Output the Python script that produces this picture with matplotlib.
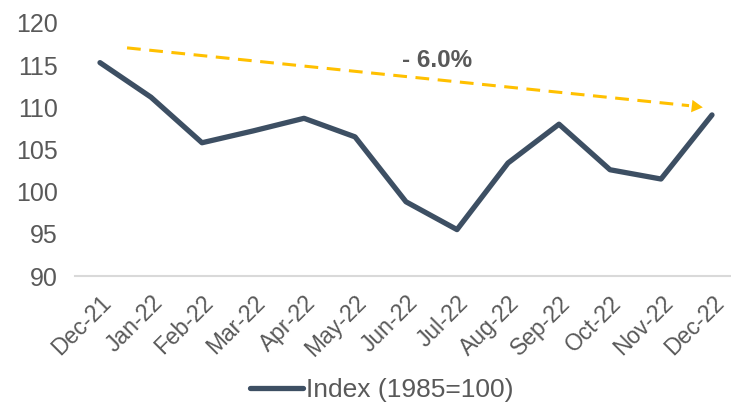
import matplotlib
matplotlib.use("Agg")
import matplotlib.pyplot as plt

months = ["Dec-21", "Jan-22", "Feb-22", "Mar-22", "Apr-22", "May-22", "Jun-22",
          "Jul-22", "Aug-22", "Sep-22", "Oct-22", "Nov-22", "Dec-22"]
index_vals = [115.3, 111.2, 105.8, 107.2, 108.7, 106.5, 98.8, 95.5, 103.4, 108.0, 102.6, 101.5, 109.1]
series_name = "Index (1985=100)"
change_label = "- 6.0%"
yticks = [90, 95, 100, 105, 110, 115, 120]

plt.rcParams['font.family'] = ['Liberation Sans', 'DejaVu Sans']
W, H = 731, 405
fig = plt.figure(figsize=(W / 100, H / 100), dpi=100)
ax = fig.add_axes([74.5 / W, (H - 276) / H, (737.5 - 74.5) / W, (276 - 23) / H])

x = list(range(len(months)))
ax.plot(x, index_vals, color="#3D4F63", lw=3.8, solid_joinstyle="round",
        solid_capstyle="round", label=series_name, zorder=3)

# trend arrow
ax.plot([0.53, 11.55], [117.05, 110.2], color="#FFC000", lw=2.2,
        dashes=(4.5, 2.8), zorder=2)
ax.annotate("", xy=(11.82, 110.0), xytext=(11.5, 110.22),
            arrowprops=dict(arrowstyle="-|>,head_length=0.8,head_width=0.45",
                            color="#FFC000", lw=0, shrinkA=0, shrinkB=0))
ax.text(6.6, 115.5, change_label, fontsize=17.5, fontweight="bold",
        color="#595959", ha="center", va="center")

ax.set_xlim(-0.5, 12.5)
ax.set_ylim(90, 120)
ax.set_yticks(yticks)
ax.set_yticklabels([str(v) for v in yticks], fontsize=18, color="#595959")
ax.set_xticks(x)
ax.set_xticklabels(months, rotation=45, ha="right", rotation_mode="anchor",
                   fontsize=16.5, color="#595959")
ax.tick_params(axis="both", length=0)
ax.tick_params(axis="x", pad=11)
ax.tick_params(axis="y", pad=12)
for s in ["top", "right", "left"]:
    ax.spines[s].set_visible(False)
ax.spines["bottom"].set_color("#D9D9D9")
ax.spines["bottom"].set_linewidth(1.5)

leg = fig.legend(loc="center", bbox_to_anchor=(0.522, (H - 390) / H), frameon=False,
                 fontsize=19, handlelength=2.0, handletextpad=0.1,
                 labelcolor="#595959")
fig.savefig("out.png", dpi=100)
